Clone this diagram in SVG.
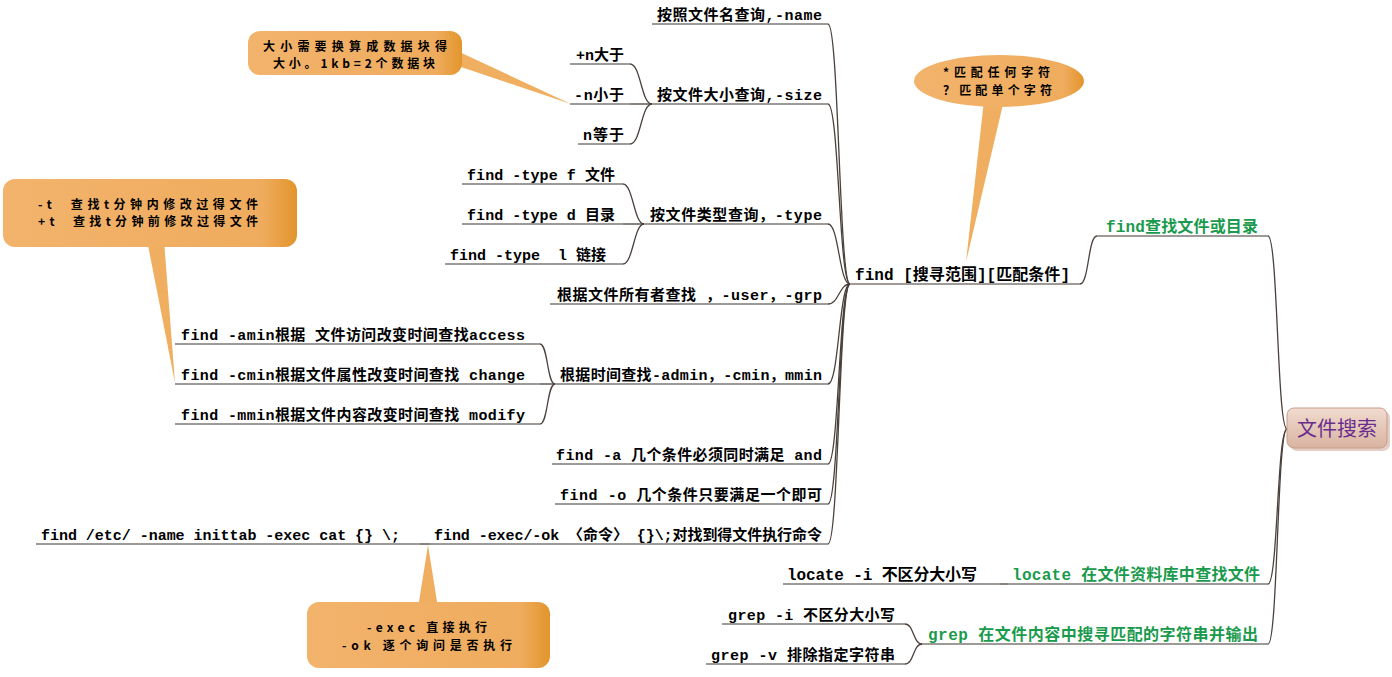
<svg xmlns="http://www.w3.org/2000/svg" width="1392" height="677" viewBox="0 0 1392 677">
<defs>
<style>
text{white-space:pre;}
.t{font-family:"Liberation Mono","Noto Sans CJK SC",monospace;font-size:15px;font-weight:bold;fill:#000;}
.g{font-family:"Liberation Mono","Noto Sans CJK SC",monospace;font-size:16px;font-weight:bold;fill:#1a9a4c;}
.c{font-family:"Noto Sans CJK SC",sans-serif;font-size:12px;font-weight:bold;fill:#000;}
.u{stroke:#3f3633;stroke-width:1.2;fill:none;}
.k{stroke:#4a403c;stroke-width:1.3;fill:none;}
.tail{fill:#f0ae60;}
</style>
<linearGradient id="cg" x1="0" y1="0" x2="1" y2="0">
<stop offset="0" stop-color="#f2b36c"/>
<stop offset="0.88" stop-color="#efac5e"/>
<stop offset="1" stop-color="#e3952c"/>
</linearGradient>
<linearGradient id="rg" x1="0" y1="0" x2="0" y2="1">
<stop offset="0" stop-color="#f0dbd0"/>
<stop offset="1" stop-color="#d9b3a0"/>
</linearGradient>
</defs>
<rect width="1392" height="677" fill="#ffffff"/>

<g id="connectors">
<path class="k" d="M1287,429 C1277,429 1278,236 1268,236"/>
<path class="k" d="M1287,429 C1277,429 1278,584 1268,584"/>
<path class="k" d="M1287,429 C1277,429 1278,644 1268,644"/>
<path class="k" d="M1080,284 C1089,284 1088,236 1097,236"/>
<path class="k" d="M828,24 C839,24 839,284 850,284"/>
<path class="k" d="M828,104 C839,104 839,284 850,284"/>
<path class="k" d="M828,224 C839,224 839,284 850,284"/>
<path class="k" d="M828,304 C839,304 839,284 850,284"/>
<path class="k" d="M828,384 C839,384 839,284 850,284"/>
<path class="k" d="M828,464 C839,464 839,284 850,284"/>
<path class="k" d="M828,504 C839,504 839,284 850,284"/>
<path class="k" d="M828,544 C839,544 839,284 850,284"/>
<path class="k" d="M630,64 C641,64 641,104 652,104"/>
<path class="k" d="M630,104 L652,104"/>
<path class="k" d="M630,144 C641,144 641,104 652,104"/>
<path class="k" d="M623,184 C633,184 634,224 644,224"/>
<path class="k" d="M623,224 L644,224"/>
<path class="k" d="M623,264 C633,264 634,224 644,224"/>
<path class="k" d="M540,344 C548,344 547,384 555,384"/>
<path class="k" d="M540,384 L555,384"/>
<path class="k" d="M540,424 C548,424 547,384 555,384"/>
<path class="k" d="M420,544 L430,544"/>
<path class="k" d="M1000,584 L1008,584"/>
<path class="k" d="M905,624 C914,624 913,644 922,644"/>
<path class="k" d="M905,664 C914,664 913,644 922,644"/>
</g>

<g id="root">
<rect x="1290" y="411" width="100" height="40" rx="7" fill="#c9a08d" opacity="0.5"/>
<rect x="1287" y="408" width="100" height="40" rx="7" fill="url(#rg)" stroke="#c79c88" stroke-width="1"/>
<text x="1337" y="436" text-anchor="middle" style="font-family:'Noto Sans CJK SC',sans-serif;font-size:20px;fill:#6a2d8c;">文件搜索</text>
</g>

<g id="n-find-main">
<text class="g" x="1106" y="232" textLength="152" lengthAdjust="spacing">find查找文件或目录</text>
<line class="u" x1="1097" y1="236" x2="1268" y2="236"/>
</g>
<g id="n-locate">
<text class="g" x="1012" y="580" textLength="248" lengthAdjust="spacing">locate 在文件资料库中查找文件</text>
<line class="u" x1="1008" y1="584" x2="1268" y2="584"/>
</g>
<g id="n-grep">
<text class="g" x="928" y="640" textLength="330" lengthAdjust="spacing">grep 在文件内容中搜寻匹配的字符串并输出</text>
<line class="u" x1="922" y1="644" x2="1268" y2="644"/>
</g>

<g id="n-findsyntax">
<text class="t" x="855" y="280" style="font-size:16px" textLength="215" lengthAdjust="spacing">find [搜寻范围][匹配条件]</text>
<line class="u" x1="850" y1="284" x2="1080" y2="284"/>
</g>

<g id="n-name">
<text class="t" x="657" y="20" textLength="165" lengthAdjust="spacing">按照文件名查询,-name</text>
<line class="u" x1="652" y1="24" x2="828" y2="24"/>
</g>
<g id="n-size">
<text class="t" x="657" y="100" textLength="165" lengthAdjust="spacing">按文件大小查询,-size</text>
<line class="u" x1="652" y1="104" x2="828" y2="104"/>
</g>
<g id="n-type">
<text class="t" x="650" y="220" textLength="172" lengthAdjust="spacing">按文件类型查询，-type</text>
<line class="u" x1="644" y1="224" x2="828" y2="224"/>
</g>
<g id="n-user">
<text class="t" x="557" y="300" textLength="265" lengthAdjust="spacing">根据文件所有者查找 ，-user，-grp</text>
<line class="u" x1="550" y1="304" x2="828" y2="304"/>
</g>
<g id="n-time">
<text class="t" x="560" y="380" textLength="262" lengthAdjust="spacing">根据时间查找-admin，-cmin，mmin</text>
<line class="u" x1="555" y1="384" x2="828" y2="384"/>
</g>
<g id="n-and">
<text class="t" x="556" y="460" textLength="266" lengthAdjust="spacing">find -a 几个条件必须同时满足 and</text>
<line class="u" x1="552" y1="464" x2="828" y2="464"/>
</g>
<g id="n-or">
<text class="t" x="560" y="500" textLength="262" lengthAdjust="spacing">find -o 几个条件只要满足一个即可</text>
<line class="u" x1="555" y1="504" x2="828" y2="504"/>
</g>
<g id="n-exec">
<text class="t" x="434" y="540" textLength="388" lengthAdjust="spacing">find -exec/-ok 〈命令〉 {}\;对找到得文件执行命令</text>
<line class="u" x1="430" y1="544" x2="828" y2="544"/>
</g>

<g id="n-size-gt">
<text class="t" x="576" y="60" textLength="48" lengthAdjust="spacing">+n大于</text>
<line class="u" x1="570" y1="64" x2="630" y2="64"/>
</g>
<g id="n-size-lt">
<text class="t" x="574" y="100" textLength="50" lengthAdjust="spacing">-n小于</text>
<line class="u" x1="570" y1="104" x2="630" y2="104"/>
</g>
<g id="n-size-eq">
<text class="t" x="583" y="140" textLength="41" lengthAdjust="spacing">n等于</text>
<line class="u" x1="578" y1="144" x2="630" y2="144"/>
</g>

<g id="n-type-f">
<text class="t" x="467" y="180" textLength="148" lengthAdjust="spacing">find -type f 文件</text>
<line class="u" x1="462" y1="184" x2="623" y2="184"/>
</g>
<g id="n-type-d">
<text class="t" x="467" y="220" textLength="148" lengthAdjust="spacing">find -type d 目录</text>
<line class="u" x1="462" y1="224" x2="623" y2="224"/>
</g>
<g id="n-type-l">
<text class="t" x="450" y="260" textLength="156" lengthAdjust="spacing">find -type  l 链接</text>
<line class="u" x1="445" y1="264" x2="623" y2="264"/>
</g>

<g id="n-amin">
<text class="t" x="181" y="340" textLength="344" lengthAdjust="spacing">find -amin根据 文件访问改变时间查找access</text>
<line class="u" x1="175" y1="344" x2="540" y2="344"/>
</g>
<g id="n-cmin">
<text class="t" x="181" y="380" textLength="344" lengthAdjust="spacing">find -cmin根据文件属性改变时间查找 change</text>
<line class="u" x1="175" y1="384" x2="540" y2="384"/>
</g>
<g id="n-mmin">
<text class="t" x="181" y="420" textLength="344" lengthAdjust="spacing">find -mmin根据文件内容改变时间查找 modify</text>
<line class="u" x1="175" y1="424" x2="540" y2="424"/>
</g>

<g id="n-exec-example">
<text class="t" x="41" y="540" textLength="359" lengthAdjust="spacing">find /etc/ -name inittab -exec cat {} \;</text>
<line class="u" x1="36" y1="544" x2="420" y2="544"/>
</g>

<g id="n-locate-i">
<text class="t" x="787" y="580" style="font-size:16px" textLength="190" lengthAdjust="spacing">locate -i 不区分大小写</text>
<line class="u" x1="783" y1="584" x2="1000" y2="584"/>
</g>
<g id="n-grep-i">
<text class="t" x="728" y="620" textLength="167" lengthAdjust="spacing">grep -i 不区分大小写</text>
<line class="u" x1="722" y1="624" x2="905" y2="624"/>
</g>
<g id="n-grep-v">
<text class="t" x="711" y="660" textLength="184" lengthAdjust="spacing">grep -v 排除指定字符串</text>
<line class="u" x1="706" y1="664" x2="905" y2="664"/>
</g>

<g id="callout-size">
<polygon class="tail" points="455,50 458,66 571,104"/>
<rect x="248" y="31" width="214" height="44" rx="12" fill="url(#cg)"/>
<text class="c" x="263" y="51" textLength="184" lengthAdjust="spacing">大小需要换算成数据块得</text>
<text class="c" x="273" y="68" textLength="162" lengthAdjust="spacing">大小。1kb=2个数据块</text>
</g>

<g id="callout-wildcard">
<polygon class="tail" points="984,100 1004,100 966,262"/>
<ellipse cx="999" cy="81" rx="85" ry="26" fill="url(#cg)"/>
<text class="c" x="943" y="77" textLength="107" lengthAdjust="spacing">*匹配任何字符</text>
<text class="c" x="943" y="95" textLength="109" lengthAdjust="spacing">？匹配单个字符</text>
</g>

<g id="callout-time">
<polygon class="tail" points="147,240 164,240 175,383"/>
<rect x="3" y="179" width="294" height="68" rx="12" fill="url(#cg)"/>
<text class="c" x="38" y="209" textLength="220" lengthAdjust="spacing">-t  查找t分钟内修改过得文件</text>
<text class="c" x="38" y="226" textLength="220" lengthAdjust="spacing">+t  查找t分钟前修改过得文件</text>
</g>

<g id="callout-exec">
<polygon class="tail" points="418,608 438,608 428,545"/>
<rect x="307" y="602" width="243" height="66" rx="12" fill="url(#cg)"/>
<text class="c" x="367" y="632" textLength="120" lengthAdjust="spacing">-exec 直接执行</text>
<text class="c" x="342" y="650" textLength="170" lengthAdjust="spacing">-ok 逐个询问是否执行</text>
</g>
</svg>
